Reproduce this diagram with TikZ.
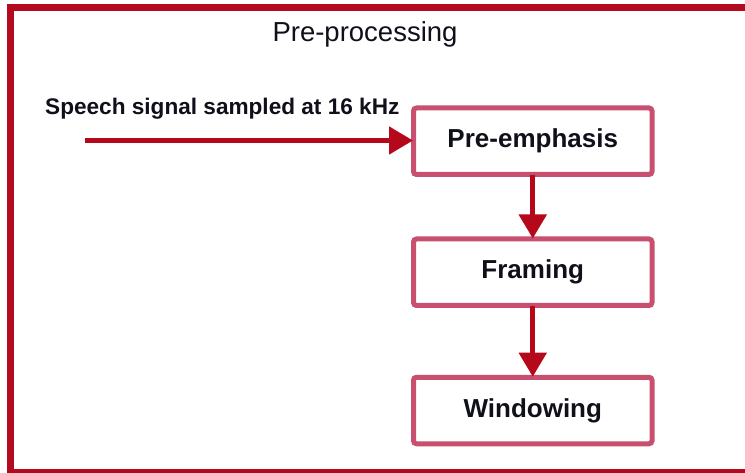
\documentclass[tikz,border=0pt]{standalone}
\usepackage{fontspec}
\setmainfont{Liberation Sans}
\usetikzlibrary{arrows.meta}
\definecolor{framered}{HTML}{B40A1E}
\definecolor{boxpink}{HTML}{C8506E}
\definecolor{arrowred}{HTML}{B5091B}
\definecolor{txt}{HTML}{10101A}
\tikzset{
  stepbox/.style={draw=boxpink, line width=5pt, rounded corners=3pt, fill=white,
    minimum width=238.5pt, minimum height=66.5pt, inner sep=0pt,
    font=\fontsize{26}{30}\selectfont\bfseries, text=txt},
  flowarrow/.style={draw=arrowred, line width=5pt,
    -{Triangle[length=24pt 0 0, width=27pt 0 0]}},
}
\begin{document}
\begin{tikzpicture}[x=1pt,y=-1pt]
\useasboundingbox (0,0) rectangle (745,473);
\fill[white] (0,0) rectangle (745,473);
\draw[framered, line width=7pt] (760,7.5) -- (10.5,7.5) -- (10.5,472) -- (760,472);
\node[font=\fontsize{27.5}{31}\selectfont, text=txt, anchor=base] (title) at (365,42) {Pre-processing};
\node[stepbox] (pre) at (532.75,141.25) {Pre-emphasis};
\node[stepbox] (frm) at (532.75,272.25) {Framing};
\node[stepbox] (win) at (532.75,410.5) {Windowing};
\node[font=\fontsize{22.6}{26}\selectfont\bfseries, text=txt, anchor=base west, inner sep=0pt] (lbl) at (45,115) {Speech signal sampled at 16 kHz};
\coordinate (in) at (85,140.5);
\draw[flowarrow, shorten >=-2pt] (in) -- (in -| pre.west);
\draw[flowarrow, shorten >=-2pt, shorten <=-2pt] (pre.south) -- (frm.north);
\draw[flowarrow, shorten >=-2pt, shorten <=-2pt] (frm.south) -- (win.north);
\end{tikzpicture}
\end{document}
